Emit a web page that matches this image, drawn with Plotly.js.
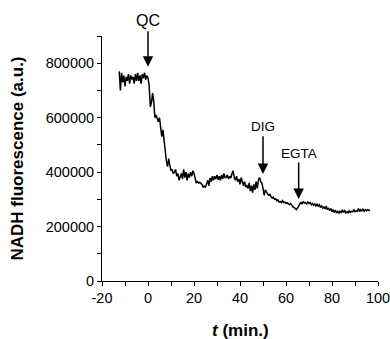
<!DOCTYPE html>
<html>
<head>
<meta charset="utf-8">
<script src="https://cdn.plot.ly/plotly-3.0.1.min.js"></script>
<style>html,body{margin:0;padding:0;background:#fff;}#chart{width:390px;height:339px;}</style>
</head>
<body>
<div id="chart"></div>
<script>
// time (min.)
var timeMin = [
-12.5,-12,-11.5,-11,-10.5,-10,-9.5,-9,-8.5,-8,-7.5,-7,-6.5,-6,-5.5,-5,-4.5,-4,-3.5,-3,-2.5,-2,-1.5,-1,-0.5,0,
0.5,1,1.5,2,2.5,3,3.5,4,4.5,5,5.5,6,6.5,7,7.5,8,8.5,9,9.5,10,10.5,11,11.5,12,12.5,13,13.5,14,14.5,15,15.5,16,16.5,17,17.5,18,18.5,19,19.5,20,
20.5,21,21.5,22,22.5,23,23.5,24,24.5,25,25.5,26,26.5,27,27.5,28,28.5,29,29.5,30,30.5,31,31.5,32,32.5,33,33.5,34,34.5,35,35.5,36,36.5,37,37.5,38,38.5,39,39.5,40,
40.5,41,41.5,42,42.5,43,43.5,44,44.5,45,45.5,46,46.5,47,47.5,48,48.5,49,49.5,50,50.5,51,51.5,52,52.5,53,53.5,54,54.5,55,55.5,56,56.5,57,57.5,58,58.5,59,59.5,60,
60.5,61,61.5,62,62.5,63,63.5,64,64.5,65,65.5,66,66.5,67,67.5,68,68.5,69,69.5,70,70.5,71,71.5,72,72.5,73,73.5,74,74.5,75,75.5,76,76.5,77,77.5,78,78.5,79,79.5,80,
80.5,81,81.5,82,82.5,83,83.5,84,84.5,85,85.5,86,86.5,87,87.5,88,88.5,89,89.5,90,90.5,91,91.5,92,92.5,93,93.5,94,94.5,95,95.5,96,96.5
];
// NADH fluorescence (a.u.)
var nadhFluorescence = [
770000,700000,765000,730000,755000,715000,750000,735000,760000,725000,755000,740000,750000,725000,760000,735000,765000,735000,755000,725000,760000,745000,765000,740000,755000,745000,
720000,640000,655000,690000,660000,600000,610000,600000,585000,600000,570000,530000,555000,510000,470000,440000,420000,450000,425000,405000,410000,395000,400000,410000,385000,395000,370000,380000,395000,375000,410000,380000,400000,370000,395000,380000,400000,385000,405000,395000,
370000,360000,365000,360000,362000,358000,355000,345000,348000,345000,360000,370000,350000,378000,365000,385000,370000,385000,375000,390000,372000,385000,370000,390000,375000,395000,380000,380000,390000,375000,385000,378000,395000,405000,380000,370000,385000,365000,375000,355000,
380000,360000,350000,365000,345000,350000,340000,360000,330000,350000,325000,355000,335000,365000,340000,370000,380000,365000,360000,340000,315000,335000,325000,320000,315000,318000,310000,305000,308000,300000,302000,295000,298000,290000,292000,288000,295000,288000,290000,285000,
288000,283000,280000,285000,278000,272000,270000,265000,262000,268000,275000,285000,290000,282000,292000,286000,288000,283000,290000,285000,288000,280000,285000,278000,283000,276000,282000,275000,280000,270000,276000,268000,272000,265000,275000,262000,268000,258000,266000,255000,
262000,252000,260000,250000,256000,248000,258000,250000,262000,252000,258000,250000,255000,250000,258000,252000,256000,254000,262000,255000,258000,256000,266000,255000,262000,258000,265000,256000,262000,258000,262000,260000,258000
];
// event labels and time of addition
var eventLabels = ["QC", "DIG", "EGTA"];
var eventTimes = [0, 50, 65.5];
var arrowTips = [787000, 393000, 301000];
var arrowTails = [923000, 537000, 441000];
var labelLevels = [1.065, 0.63, 0.52]; // fraction of plot height
var labelSizes = [16, 13.5, 13.5];

var xTickVals = [-20, 0, 20, 40, 60, 80, 100];
var yTickVals = [0, 200000, 400000, 600000, 800000];

var font = "Liberation Sans, Arial, sans-serif";
var annotations = [];
for (var i = 0; i < eventLabels.length; i++) {
  annotations.push({
    x: eventTimes[i], y: arrowTips[i], xref: 'x', yref: 'y',
    ax: eventTimes[i], ay: arrowTails[i], axref: 'x', ayref: 'y',
    text: '', showarrow: true, arrowhead: 2, arrowsize: 1.4, arrowwidth: 1.5, arrowcolor: '#000'
  });
  annotations.push({
    x: eventTimes[i], y: labelLevels[i], xref: 'x', yref: 'paper',
    text: eventLabels[i], showarrow: false, xanchor: 'center', yanchor: 'middle',
    font: {family: font, size: labelSizes[i], color: '#000'}
  });
}
// x-axis title (placed as annotation so it can sit near the bottom edge)
annotations.push({
  x: 0.5, y: -0.2, xref: 'paper', yref: 'paper', xanchor: 'center', yanchor: 'middle',
  text: '<b><i>t</i> (min.)</b>', showarrow: false,
  font: {family: font, size: 17, color: '#000'}
});

var trace = {
  x: timeMin, y: nadhFluorescence, type: 'scatter', mode: 'lines',
  line: {color: '#000', width: 1.5}, hoverinfo: 'skip'
};

var layout = {
  width: 390, height: 339,
  margin: {l: 102, r: 12, t: 36, b: 58},
  paper_bgcolor: '#fff', plot_bgcolor: '#fff',
  showlegend: false,
  font: {family: font, color: '#000'},
  xaxis: {
    range: [-20, 100], tickvals: xTickVals, ticktext: xTickVals.map(String),
    ticks: 'outside', ticklen: 4, tickwidth: 1, tickcolor: '#000',
    minor: {dtick: 10, tick0: 0, ticks: 'outside', ticklen: 4, tickwidth: 1, tickcolor: '#000'},
    showline: true, linecolor: '#000', linewidth: 1, showgrid: false, zeroline: false,
    tickfont: {family: font, size: 14.5, color: '#000'},
    ticklabeloverflow: 'allow',
    fixedrange: true
  },
  yaxis: {
    range: [0, 900000], tickvals: yTickVals, ticktext: yTickVals.map(String),
    ticks: 'outside', ticklen: 4, tickwidth: 1, tickcolor: '#000',
    minor: {dtick: 100000, tick0: 0, ticks: 'outside', ticklen: 4, tickwidth: 1, tickcolor: '#000'},
    showline: true, linecolor: '#000', linewidth: 1, showgrid: false, zeroline: false,
    tickfont: {family: font, size: 14.5, color: '#000'},
    title: {text: '<b>NADH fluorescence (a.u.)</b>', font: {family: font, size: 17, color: '#000'}, standoff: 17},
    fixedrange: true
  },
  annotations: annotations
};

Plotly.newPlot('chart', [trace], layout, {displayModeBar: false, staticPlot: true});
</script>
</body>
</html>
